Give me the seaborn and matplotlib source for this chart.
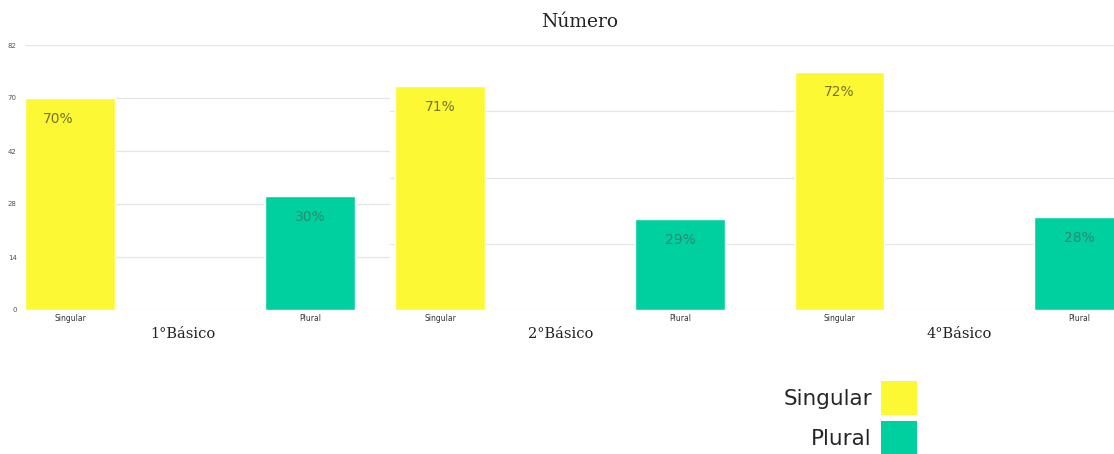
import numpy as np
import pandas as pd
import matplotlib
matplotlib.use("Agg")
import matplotlib.pyplot as plt
from matplotlib.patches import Patch
import seaborn as sns

# ---- data ----
groups = ["1°Básico", "2°Básico", "4°Básico"]
categories = ["Singular", "Plural"]
singular = [70, 71, 72]
plural = [30, 29, 28]
panel1_ticks = [0, 14, 28, 42, 70, 82]
panel2_grid = [0, 21, 42, 63, 84]
panel3_grid = [0, 20, 40, 60, 80]
title = "Número"

YELLOW = "#FDF834"
GREEN = "#00CFA0"
palette = {"Singular": YELLOW, "Plural": GREEN}
label_colors = {"Singular": "#77722e", "Plural": "#2a8a6e"}

sns.set_theme(style="white")
plt.rcParams["font.family"] = ["DejaVu Sans"]

W, H = 1114, 454
fig = plt.figure(figsize=(W / 100, H / 100), dpi=100)

panels = [
    dict(px=(25, 390), xlim=(-0.1875, 1.333), glx=0.47),
    dict(px=(390, 780), xlim=(-0.21, 1.415), glx=0.5),
    dict(px=(780, 1114), xlim=(-0.248, 1.144), glx=0.5),
]
base_y, top_y = 310, 45

pos = np.arange(len(panel1_ticks), dtype=float)
def fwd(v):
    return np.interp(v, panel1_ticks, pos)
def inv(p):
    return np.interp(p, pos, panel1_ticks)

for i, (g, p) in enumerate(zip(groups, panels)):
    x0, x1 = p["px"]
    ax = fig.add_axes([x0 / W, (H - base_y) / H, (x1 - x0) / W, (base_y - top_y) / H])
    df = pd.DataFrame({"cat": categories, "val": [singular[i], plural[i]]})
    sns.barplot(data=df, x="cat", y="val", hue="cat", palette=palette,
                width=0.375, ax=ax, legend=False, saturation=1)
    if i == 0:
        ax.set_yscale("function", functions=(fwd, inv))
        ax.set_ylim(0, 82)
        ax.set_yticks(panel1_ticks)
        ax.set_yticklabels([str(t) for t in panel1_ticks], fontsize=5, color="#555555")
        ax.tick_params(axis="y", length=0, pad=6)
    else:
        grid = panel2_grid if i == 1 else panel3_grid
        ax.set_ylim(0, grid[-1])
        ax.set_yticks(grid)
        ax.set_yticklabels([])
        ax.tick_params(axis="y", length=0)
    ax.yaxis.grid(True, color="#e6e6e6", linewidth=0.9)
    ax.set_axisbelow(True)
    ax.set_xlim(*p["xlim"])
    ax.set_xlabel("")
    ax.set_ylabel("")
    ax.tick_params(axis="x", length=0, pad=3, labelsize=5.5, labelcolor="#333333")
    for s in ax.spines.values():
        s.set_visible(False)
    for j, (c, v) in enumerate(zip(categories, [singular[i], plural[i]])):
        dx = -12 if (i == 0 and j == 0) else 0
        ax.annotate(f"{v}%", xy=(j, v), xytext=(dx, -21), textcoords="offset pixels",
                    ha="center", va="center", fontsize=10, color=label_colors[c])
    ax.annotate(g, xy=(p["glx"], 0), xycoords=("data", "axes fraction"),
                xytext=(0, -24), textcoords="offset pixels", ha="center", va="center",
                fontsize=10.5, family="DejaVu Serif", color="#222222")

fig.text(580 / W, 1 - 22 / H, title, ha="center", va="center",
         fontsize=13.5, family="DejaVu Serif", color="#222222")

handles = [Patch(facecolor=YELLOW, edgecolor="none"), Patch(facecolor=GREEN, edgecolor="none")]
fig.legend(handles, categories, markerfirst=False, frameon=False, fontsize=15.5,
           handlelength=1.65, handleheight=2.05, handletextpad=0.45, labelspacing=0.3,
           loc="upper right", bbox_to_anchor=(917 / W, 1 - 381 / H), borderaxespad=0,
           borderpad=0)

fig.savefig("out.png", dpi=100, facecolor="white")
